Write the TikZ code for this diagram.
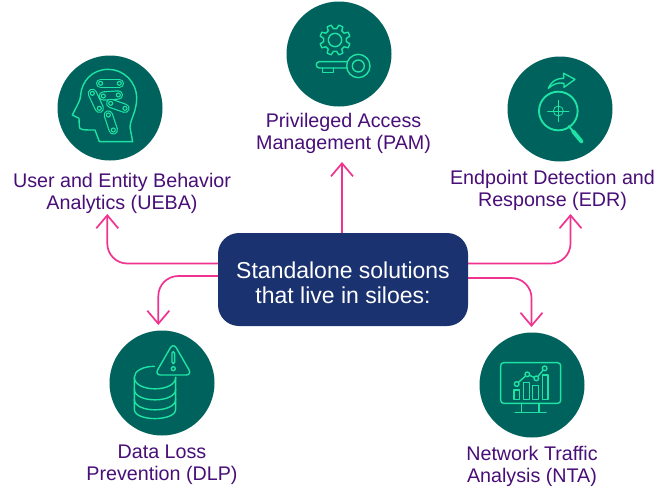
\documentclass[tikz,border=0pt]{standalone}
\usepackage{fontspec}
\setmainfont{Liberation Sans}
\usetikzlibrary{arrows.meta,calc}
\definecolor{teal}{HTML}{00625C}
\definecolor{mint}{HTML}{1FE3A4}
\definecolor{navy}{HTML}{1B3270}
\definecolor{pinkc}{HTML}{F0338F}
\definecolor{purp}{HTML}{480F78}
\tikzset{
  disc/.style={circle,fill=teal,draw=none,minimum size=105pt,inner sep=0pt},
  hub/.style={rectangle,fill=navy,rounded corners=21pt,minimum width=250pt,minimum height=93pt,inner sep=0pt},
  hubtext/.style={text=white,align=center,inner sep=0pt,font=\fontsize{23}{25}\selectfont},
  lab/.style={text=purp,align=center,inner sep=0pt,font=\fontsize{19.7}{22.3}\selectfont},
  conn/.style={draw=pinkc,line width=1.7pt,rounded corners=20pt,-{Straight Barb[length=13pt,width=22pt,line width=1.7pt]}},
  ico/.style={draw=mint,line width=1.4pt,line join=round,line cap=round},
  link/.style={draw=mint,line width=1.2pt,double=teal,double distance=7pt,line cap=round},
  dot/.style={draw=mint,line width=1.1pt,fill=teal}
}
\newcommand{\chainlink}[4]{%
  \draw[link] (#1,#2) -- (#3,#4);
  \draw[dot] (#1,#2) circle (6);
  \draw[dot] (#3,#4) circle (6);}
\begin{document}
\begin{tikzpicture}[x=1pt,y=-1pt]
\useasboundingbox (0,0) rectangle (660,488);
\fill[white] (0,0) rectangle (660,488);
\node[disc] (ueba) at (110,108) {};
\node[disc] (pam) at (339,54) {};
\node[disc] (edr) at (560,109) {};
\node[disc] (dlp) at (162,383) {};
\node[disc] (nta) at (532,385) {};
\node[hub] (hub) at (343,279.5) {};
\node[hubtext] (hubt) at (343,283) {Standalone solutions\\that live in siloes:};
\node[lab] (uebat) at (122,193.5) {User and Entity Behavior\\Analytics (UEBA)};
\node[lab] (pamt) at (343.5,133.5) {Privileged Access\\Management (PAM)};
\node[lab] (edrt) at (552.5,190.5) {Endpoint Detection and\\Response (EDR)};
\node[lab] (dlpt) at (162,464.5) {Data Loss\\Prevention (DLP)};
\node[lab] (ntat) at (532,466.5) {Network Traffic\\Analysis (NTA)};
\coordinate (tu) at (107.3,214);
\coordinate (tp) at (342,162);
\coordinate (te) at (570.5,214);
\coordinate (td) at (158.3,325);
\coordinate (tn) at (531.5,327);
\draw[conn] ([yshift=16pt]hub.west) -| (tu);
\draw[conn] ([yshift=3.5pt]hub.west) -| (td);
\draw[conn] (tp |- hub.north) -- (tp);
\draw[conn] ([yshift=16pt]hub.east) -| (te);
\draw[conn] ([yshift=1.5pt]hub.east) -| (tn);
% head icon
\begin{scope}[shift={(40,40)},x=.3333pt,y=-.3333pt]
\draw[ico] (178,305) -- (278,305) -- (270,262) .. controls (270,240) and (290,215) .. (290,175) .. controls (290,125) and (250,88) .. (205,88) .. controls (155,88) and (125,125) .. (122,165) .. controls (122,180) and (112,195) .. (97,225) -- (117,235) -- (118,260) .. controls (118,270) and (130,270) .. (165,270) -- cycle;
\chainlink{182}{130}{238}{130}
\chainlink{190}{168}{235}{165}
\chainlink{212}{190}{255}{205}
\chainlink{157}{160}{178}{205}
\chainlink{205}{225}{220}{270}
\end{scope}
% gear and key icon
\begin{scope}[shift={(270,0)},x=.3333pt,y=-.3333pt]
\draw[ico] ($(195,120)+(14.5:46)$) foreach \a in {0,45,...,315} { -- ($(195,120)+(\a+14.5:46)$) -- ($(195,120)+(\a+30.5:46)$) -- ($(195,120)+(\a+37:34)$) -- ($(195,120)+(\a+53:34)$) } -- cycle;
\draw[ico] (195,120) circle (20);
\draw[ico] (265,198) circle (35);
\draw[ico] (265,198) circle (18);
\draw[ico] (232,185) -- (148,185) .. controls (136,185) and (136,204) .. (148,204) -- (232,204);
\draw[ico] (158,204) -- (158,217) -- (190,217) -- (190,204);
\end{scope}
% magnifier icon
\begin{scope}[shift={(490,50)},x=.3333pt,y=-.3333pt]
\draw[ico,line width=1.9pt] (205,183) circle (58);
\draw[ico,line width=.8pt] (205,183) circle (15);
\draw[ico,line width=.8pt] (173,183) -- (237,183) (205,151) -- (205,215);
\draw[ico,line width=1.9pt] (236,228) -- (250,245);
\draw[ico,line width=4pt] (250,245) -- (274,274);
\draw[ico] (175,115) .. controls (185,92) and (200,85) .. (221,85) -- (221,70) -- (255,88) -- (222,112) -- (222,100) .. controls (205,96) and (190,102) .. (175,115) -- cycle;
\end{scope}
% database icon
\begin{scope}[shift={(95,320)},x=.3333pt,y=-.3333pt]
\draw[ico] (178,139) .. controls (145,139) and (118,152) .. (118,172) -- (118,268) .. controls (118,305) and (242,305) .. (242,268) -- (242,172);
\draw[ico] (118,172) .. controls (118,218) and (242,218) .. (242,172);
\draw[ico] (118,208) .. controls (118,250) and (242,250) .. (242,208);
\draw[ico] (118,238) .. controls (118,280) and (242,280) .. (242,238);
\draw[ico,rounded corners=6pt] (235,68) -- (291,165) -- (179,165) -- cycle;
\draw[ico,rounded corners=1.5pt] (231,95) rectangle (239,131);
\draw[ico] (235,146) circle (6);
\end{scope}
% monitor icon
\begin{scope}[shift={(465,320)},x=.3333pt,y=-.3333pt]
\draw[ico,rounded corners=3pt] (107,128) rectangle (287,250);
\draw[ico] (170,250) -- (170,277) (222,250) -- (222,277) (150,277) -- (243,277);
\draw[ico] (147,210) rectangle (164,238);
\draw[ico] (176,188) rectangle (193,238);
\draw[ico] (203,197) rectangle (220,238);
\draw[ico] (232,165) rectangle (249,238);
\draw[ico] (155,192) -- (187,163) -- (214,175) -- (239,145);
\foreach \p in {(155,192),(187,163),(214,175),(239,145)} \draw[ico,fill=teal] \p circle (7);
\end{scope}
\end{tikzpicture}
\end{document}
